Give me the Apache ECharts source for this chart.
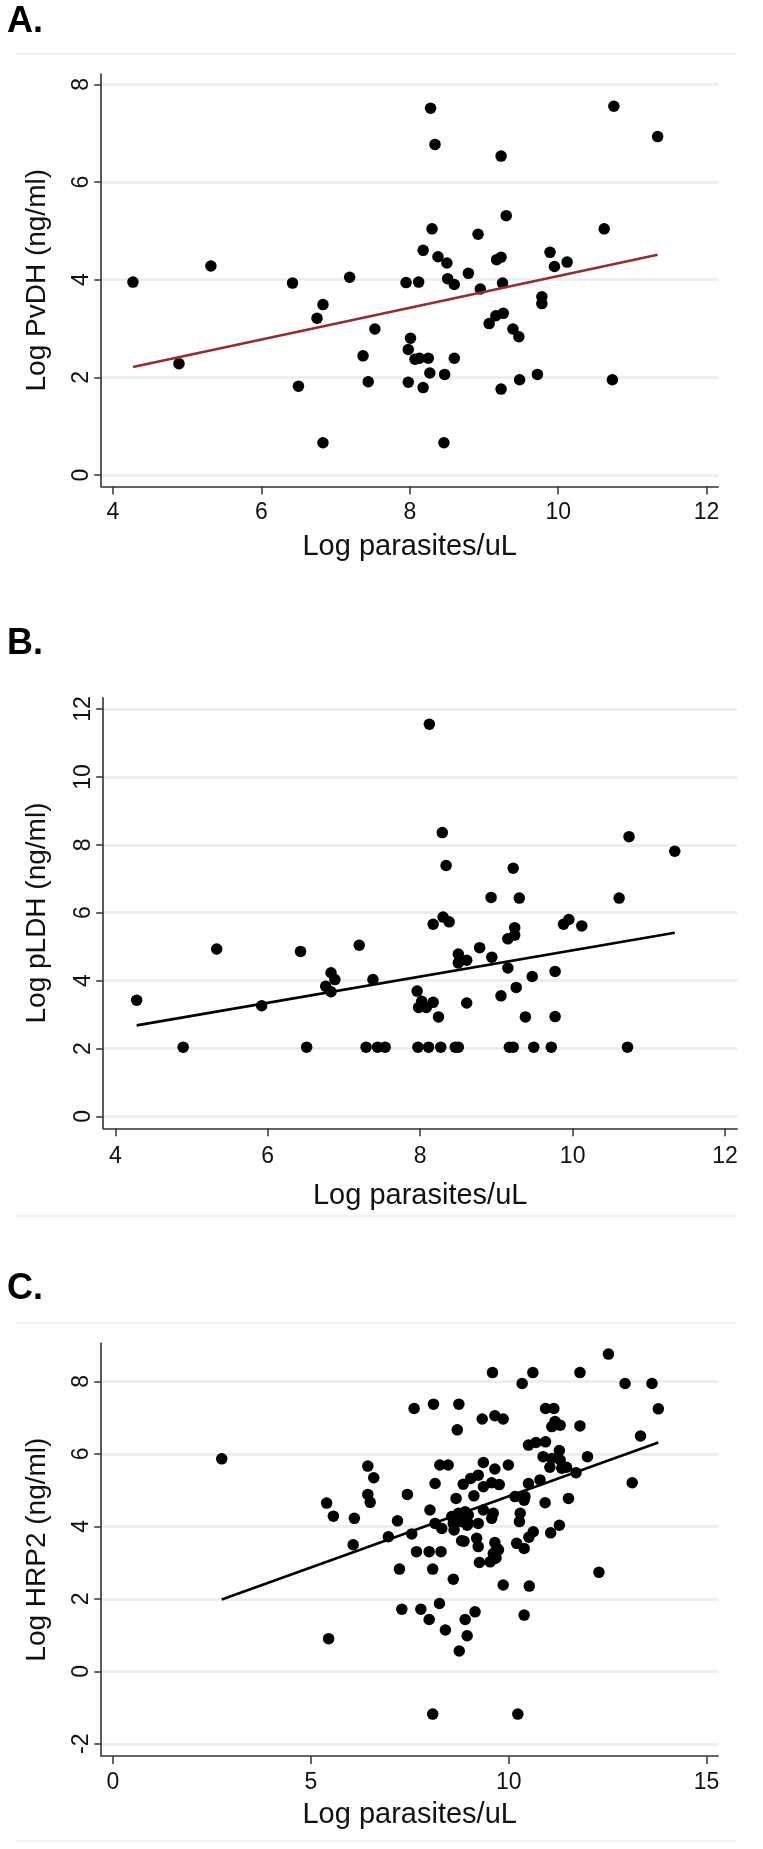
<!DOCTYPE html>
<html>
<head>
<meta charset="utf-8">
<script src="https://cdn.jsdelivr.net/npm/echarts@6/dist/echarts.min.js"></script>
<style>
html,body{margin:0;padding:0;background:#fff;}
#chart{width:763px;height:1849px;}
</style>
</head>
<body>
<div id="chart"></div>
<script>
// ---------- Data ----------
const xTicksAB = [4, 6, 8, 10, 12];
const xTicksC = [0, 5, 10, 15];
const yTicksA = [0, 2, 4, 6, 8];
const yTicksB = [0, 2, 4, 6, 8, 10, 12];
const yTicksC = [-2, 0, 2, 4, 6, 8];

const panelLabels = ['A.', 'B.', 'C.'];
const xTitle = 'Log parasites/uL';
const yTitleA = 'Log PvDH (ng/ml)';
const yTitleB = 'Log pLDH (ng/ml)';
const yTitleC = 'Log HRP2 (ng/ml)';

const pointsA = [
  [4.27,3.95],[4.89,2.28],[5.32,4.28],[6.42,3.93],[6.50,1.82],[6.75,3.21],[6.83,3.49],[6.83,0.66],
  [7.19,4.05],[7.37,2.44],[7.44,1.91],[7.53,2.99],[7.95,3.94],[7.98,2.57],[8.01,2.80],[7.98,1.90],
  [8.07,2.37],[8.13,2.39],[8.12,3.95],[8.18,1.79],[8.18,4.60],[8.25,2.39],[8.27,2.09],[8.28,7.51],
  [8.30,5.04],[8.34,6.77],[8.38,4.47],[8.46,0.66],[8.47,2.06],[8.50,4.34],[8.51,4.02],[8.60,3.90],
  [8.60,2.39],[8.79,4.13],[8.92,4.93],[8.95,3.81],[9.07,3.10],[9.16,3.26],[9.17,4.41],[9.23,4.46],
  [9.23,6.53],[9.25,3.93],[9.26,3.31],[9.23,1.76],[9.30,5.31],[9.39,2.99],[9.47,2.83],[9.48,1.95],
  [9.72,2.06],[9.78,3.65],[9.78,3.51],[9.89,4.56],[9.95,4.27],[10.12,4.36],[10.62,5.04],[10.73,1.95],
  [10.75,7.55],[11.34,6.93]
];
const fitA = [[4.27,2.21],[11.34,4.51]];

const pointsB = [
  [4.28,3.42],[4.89,2.04],[5.33,4.93],[5.92,3.26],[6.43,4.86],[6.51,2.04],[6.76,3.83],[6.83,4.23],
  [6.83,3.67],[6.88,4.03],[7.20,5.04],[7.29,2.04],[7.38,4.03],[7.44,2.04],[7.54,2.04],[7.96,3.69],
  [7.97,2.04],[7.98,3.21],[8.02,3.39],[8.08,3.21],[8.12,11.55],[8.11,2.04],[8.17,5.66],[8.17,3.36],
  [8.24,2.93],[8.27,2.04],[8.29,8.36],[8.30,5.87],[8.34,7.39],[8.38,5.73],[8.46,2.04],[8.50,2.04],
  [8.50,4.78],[8.50,4.52],[8.61,4.60],[8.61,3.34],[8.78,4.97],[8.93,6.45],[8.94,4.69],[9.06,3.55],
  [9.15,5.23],[9.15,4.37],[9.17,2.04],[9.22,2.04],[9.22,7.31],[9.24,5.56],[9.24,5.34],[9.26,3.80],
  [9.30,6.43],[9.38,2.93],[9.47,4.12],[9.49,2.04],[9.72,2.04],[9.77,4.27],[9.77,2.94],[9.88,5.66],
  [9.95,5.80],[10.12,5.61],[10.61,6.43],[10.72,2.04],[10.74,8.24],[11.34,7.81]
];
const fitB = [[4.28,2.68],[11.34,5.41]];

const pointsC = [
  [2.75,5.86],[5.40,4.64],[5.57,4.28],[5.45,0.90],[6.10,4.22],[6.07,3.49],[6.44,5.66],[6.44,4.88],
  [6.50,4.66],[6.59,5.34],[8.08,-1.18],[10.23,-1.18],[8.75,0.56],[13.33,6.49],[13.62,7.94],[13.78,7.24],
  [12.52,8.75],[9.59,8.24],[10.61,8.24],[11.80,8.24],[10.34,7.94],[12.94,7.94],[7.61,7.25],[8.10,7.37],
  [8.74,7.37],[8.70,6.66],[9.33,6.96],[9.65,7.05],[9.86,6.96],[10.93,7.25],[11.14,7.25],[11.09,6.75],
  [11.30,6.79],[11.17,6.89],[11.80,6.77],[10.50,6.24],[10.69,6.31],[10.93,6.33],[11.28,6.09],[10.87,5.92],
  [11.09,5.87],[11.30,5.83],[11.04,5.63],[11.34,5.60],[11.46,5.63],[11.70,5.48],[11.99,5.92],[8.26,5.69],
  [8.47,5.69],[9.36,5.76],[9.65,5.58],[9.99,5.69],[8.14,5.18],[8.85,5.16],[9.04,5.32],[9.23,5.41],
  [9.36,5.09],[9.57,5.20],[9.76,5.15],[7.44,4.88],[8.67,4.77],[9.12,4.84],[10.50,5.18],[10.79,5.28],
  [10.16,4.82],[10.41,4.82],[10.39,4.72],[10.92,4.65],[11.51,4.77],[13.12,5.20],[7.19,4.15],[6.96,3.71],
  [7.55,3.79],[8.01,4.45],[8.14,4.08],[8.31,3.94],[8.56,4.27],[8.73,4.36],[8.90,4.40],[8.98,4.31],
  [8.60,4.08],[8.81,4.13],[8.98,4.08],[9.23,4.08],[8.62,3.90],[8.95,4.03],[9.36,4.45],[9.61,4.36],
  [9.57,4.22],[10.29,4.36],[10.27,4.13],[11.28,4.03],[11.06,3.82],[8.81,3.60],[8.87,3.59],[9.19,3.67],
  [9.23,3.44],[9.65,3.55],[9.70,3.39],[9.61,3.25],[9.74,3.35],[9.68,3.13],[10.20,3.53],[10.39,3.39],
  [10.51,3.70],[10.62,3.85],[7.67,3.30],[7.99,3.30],[8.29,3.30],[9.26,3.00],[9.53,3.02],[9.65,3.11],
  [7.24,2.82],[8.08,2.82],[8.60,2.54],[9.86,2.38],[10.52,2.35],[12.28,2.73],[7.30,1.71],[7.78,1.71],
  [8.25,1.87],[7.99,1.43],[9.15,1.64],[8.90,1.43],[8.40,1.14],[8.95,0.98],[10.39,1.55]
];
const fitC = [[2.75,1.98],[13.78,6.31]];

// ---------- Styling / layout ----------
const FONT = "'Liberation Sans', Arial, Helvetica, sans-serif";
const AXIS_COLOR = '#333';
const GRID_COLOR = '#e6eef0';
const TEXT_COLOR = '#111';

function xAxisDef(gridIndex, min, max, ticks, nameGap, labelMargin) {
  return {
    type: 'value', gridIndex, min, max, position: 'bottom',
    name: xTitle, nameLocation: 'middle', nameGap,
    nameTextStyle: { fontFamily: FONT, fontSize: 29, color: TEXT_COLOR },
    axisLine: { show: true, onZero: false, lineStyle: { color: AXIS_COLOR, width: 1.6 } },
    axisTick: { show: true, length: 8, customValues: ticks, lineStyle: { color: AXIS_COLOR, width: 1.5 } },
    axisLabel: { customValues: ticks, margin: labelMargin, fontFamily: FONT, fontSize: 23, color: TEXT_COLOR },
    splitLine: { show: false }
  };
}
function yAxisDef(gridIndex, min, max, ticks, name, nameGap) {
  return {
    type: 'value', gridIndex, min, max, position: 'left',
    name, nameLocation: 'middle', nameGap, nameRotate: 90,
    nameTextStyle: { fontFamily: FONT, fontSize: 28, color: TEXT_COLOR },
    axisLine: { show: true, onZero: false, lineStyle: { color: AXIS_COLOR, width: 1.6 } },
    axisTick: { show: true, length: 7, customValues: ticks, lineStyle: { color: AXIS_COLOR, width: 1.5 } },
    axisLabel: { customValues: ticks, rotate: 90, margin: 8, fontFamily: FONT, fontSize: 23, color: TEXT_COLOR },
    splitLine: { show: true, lineStyle: { color: GRID_COLOR, width: 2.5 } }
  };
}
function scatter(i, data) {
  return { type: 'scatter', xAxisIndex: i, yAxisIndex: i, data, symbol: 'circle', symbolSize: 11.5,
           itemStyle: { color: '#000', opacity: 1 }, silent: true, z: 3 };
}
function fitLine(i, data, color) {
  return { type: 'line', xAxisIndex: i, yAxisIndex: i, data, symbol: 'none', silent: true, z: 4,
           lineStyle: { color, width: 2.6 } };
}
function sep(y) {
  return { type: 'line', shape: { x1: 15, y1: y, x2: 737, y2: y }, style: { stroke: '#e9f0f0', lineWidth: 1.5 }, silent: true };
}
function panelLabel(text, y) {
  return { type: 'text', x: 7, y, style: { text, font: 'bold 36px ' + FONT, fill: '#000', verticalAlign: 'top' }, silent: true };
}

const chart = echarts.init(document.getElementById('chart'), null, { renderer: 'canvas', width: 763, height: 1849 });
chart.setOption({
  backgroundColor: '#fff',
  animation: false,
  grid: [
    { left: 101.2, top: 74, width: 617, height: 412.5, containLabel: false, outerBoundsMode: 'none' },
    { left: 103.2, top: 697.7, width: 634, height: 430.6, containLabel: false, outerBoundsMode: 'none' },
    { left: 101.2, top: 1343.3, width: 617, height: 412.7, containLabel: false, outerBoundsMode: 'none' }
  ],
  xAxis: [
    xAxisDef(0, 3.842, 12.156, xTicksAB, 46, 15),
    xAxisDef(1, 3.841, 12.159, xTicksAB, 53, 17),
    xAxisDef(2, -0.296, 15.293, xTicksC, 44, 15)
  ],
  yAxis: [
    yAxisDef(0, -0.235, 8.211, yTicksA, yTitleA, 50),
    yAxisDef(1, -0.351, 12.333, yTicksB, yTitleB, 52),
    yAxisDef(2, -2.337, 9.048, yTicksC, yTitleC, 50)
  ],
  series: [
    scatter(0, pointsA), fitLine(0, fitA, '#982c2c'),
    scatter(1, pointsB), fitLine(1, fitB, '#000'),
    scatter(2, pointsC), fitLine(2, fitC, '#000')
  ],
  graphic: [
    sep(54), sep(1216), sep(1323), sep(1841),
    panelLabel(panelLabels[0], 4),
    panelLabel(panelLabels[1], 626),
    panelLabel(panelLabels[2], 1271)
  ]
});
</script>
</body>
</html>
